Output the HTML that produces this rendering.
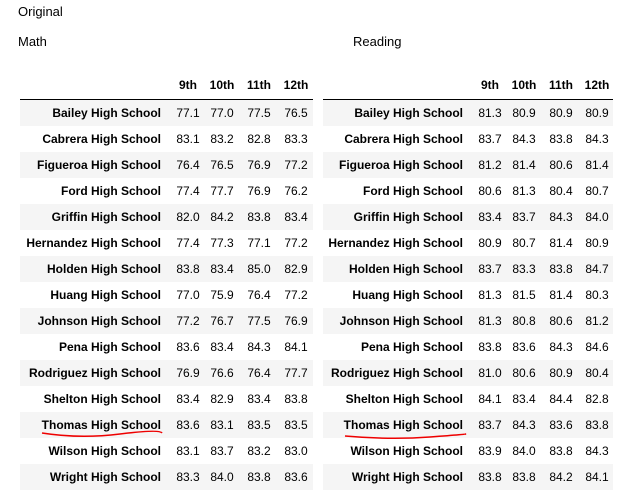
<!DOCTYPE html>
<html><head><meta charset="utf-8"><style>
body{margin:0;width:641px;height:500px;background:#fff;position:relative;overflow:hidden;font-family:"Liberation Sans",Arial,sans-serif;}
.t{position:absolute;font-size:13px;color:#000;}
.row{position:absolute;height:26px;}
.c{position:absolute;font-size:12px;line-height:26px;color:#000;white-space:nowrap;}
.n{font-weight:bold;text-align:right;}
.h{font-weight:bold;font-size:12px;position:absolute;line-height:26px;}
#ul{position:absolute;left:0;top:0;z-index:5;}
</style></head><body>
<div class="t" style="left:18px;top:4px;">Original</div>
<div class="t" style="left:18px;top:34px;">Math</div>
<div class="t" style="left:353px;top:34px;">Reading</div>
<svg id="ul" width="641" height="500">
<path d="M42 433 Q80 439 120 434 T162 433" stroke="#e00" stroke-width="1.5" fill="none"/>
<path d="M345 436 Q390 440 430 437 T465 434" stroke="#e00" stroke-width="1.5" fill="none"/>
</svg>
<script>
const schools=["Bailey","Cabrera","Figueroa","Ford","Griffin","Hernandez","Holden","Huang","Johnson","Pena","Rodriguez","Shelton","Thomas","Wilson","Wright"];
const grades=["9th","10th","11th","12th"];
const math=[[77.1,77.0,77.5,76.5],[83.1,83.2,82.8,83.3],[76.4,76.5,76.9,77.2],[77.4,77.7,76.9,76.2],[82.0,84.2,83.8,83.4],[77.4,77.3,77.1,77.2],[83.8,83.4,85.0,82.9],[77.0,75.9,76.4,77.2],[77.2,76.7,77.5,76.9],[83.6,83.4,84.3,84.1],[76.9,76.6,76.4,77.7],[83.4,82.9,83.4,83.8],[83.6,83.1,83.5,83.5],[83.1,83.7,83.2,83.0],[83.3,84.0,83.8,83.6]];
const reading=[[81.3,80.9,80.9,80.9],[83.7,84.3,83.8,84.3],[81.2,81.4,80.6,81.4],[80.6,81.3,80.4,80.7],[83.4,83.7,84.3,84.0],[80.9,80.7,81.4,80.9],[83.7,83.3,83.8,84.7],[81.3,81.5,81.4,80.3],[81.3,80.8,80.6,81.2],[83.8,83.6,84.3,84.6],[81.0,80.6,80.9,80.4],[84.1,83.4,84.4,82.8],[83.7,84.3,83.6,83.8],[83.9,84.0,83.8,84.3],[83.8,83.8,84.2,84.1]];
function table(x0,w,nameEnd,cols,data,key){
  const hdr=document.createElement('div');
  
  
  hdr.style.cssText=`position:absolute;left:${x0}px;top:99px;width:${w}px;height:1px;background:#000`;
  document.body.appendChild(hdr);
  grades.forEach((g,j)=>{
    const h=document.createElement('div');h.className='h';
    
    
    h.textContent=g;h.style.left=(cols[j]-20)+'px';h.style.width='40px';h.style.textAlign='center';h.style.top='72px';
    document.body.appendChild(h);
  });
  schools.forEach((s,i)=>{
    const y=100+i*26;
    const r=document.createElement('div');r.className='row';
    
    
    r.style.cssText=`left:${x0}px;top:${y}px;width:${w}px;background:${i%2==0?'#f5f5f5':'#fff'}`;
    document.body.appendChild(r);
    const n=document.createElement('div');n.className='c n';
    
    
    n.textContent=s+' High School';n.style.left=(nameEnd-200)+'px';n.style.width='200px';n.style.top=y+'px';
    document.body.appendChild(n);
    data[i].forEach((v,j)=>{
      const c=document.createElement('div');c.className='c';
      
      
      c.textContent=v.toFixed(1);c.style.left=(cols[j]-20)+'px';c.style.width='40px';c.style.textAlign='center';c.style.top=y+'px';
      document.body.appendChild(c);
    });
  });
}
table(20,293,161,[188,222,259,296],math,'math');
table(323,290,463,[490,524,561,597],reading,'reading');
</script>
</body></html>
